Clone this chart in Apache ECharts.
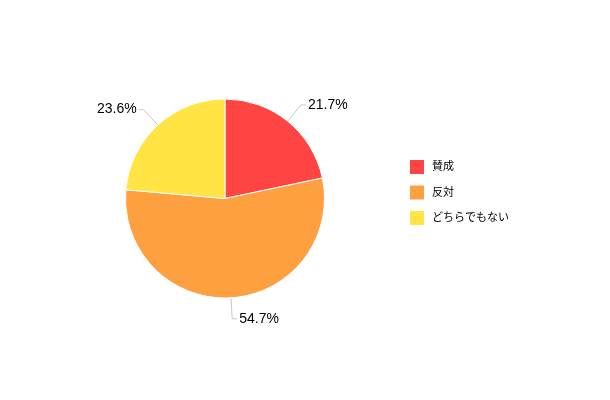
<!DOCTYPE html>
<html>
<head>
<meta charset="utf-8">
<script src="https://cdn.jsdelivr.net/npm/echarts@6/dist/echarts.min.js"></script>
<style>
html,body{margin:0;padding:0;background:#fff;}
#c{width:610px;height:400px;}
</style>
</head>
<body>
<div id="c"></div>
<script>
const categories = ["賛成", "反対", "どちらでもない"];
const values = [21.7, 54.7, 23.6];
const colors = ["#ff4444", "#ffa040", "#ffe444"];

const chart = echarts.init(document.getElementById('c'), null, {renderer: 'canvas'});
const FONT = '"Liberation Sans", "Noto Sans CJK JP", sans-serif';
chart.setOption({
  animation: false,
  backgroundColor: '#ffffff',
  color: colors,
  legend: {
    orient: 'vertical',
    left: 403,
    top: 153,
    padding: 5,
    itemWidth: 16,
    itemHeight: 16,
    itemGap: 7.5,
    icon: 'rect',
    textStyle: {fontSize: 11, lineHeight: 16, color: '#000', fontFamily: FONT, padding: [0,0,0,2]},
    data: categories
  },
  series: [{
    type: 'pie',
    center: [225, 198.5],
    radius: [0, 99.5],
    startAngle: 90,
    clockwise: true,
    avoidLabelOverlap: false,
    itemStyle: {borderColor: '#fff', borderWidth: 1},
    label: {
      show: true,
      formatter: p => p.value.toFixed(1) + '%',
      color: '#000',
      fontSize: 14,
      fontFamily: FONT,
      distanceToLabelLine: 2
    },
    labelLine: {
      show: true,
      length: 21,
      length2: 5,
      lineStyle: {color: '#c8c8c8', width: 1}
    },
    emphasis: {disabled: true},
    data: categories.map((n, i) => ({name: n, value: values[i]}))
  }]
});
</script>
</body>
</html>
